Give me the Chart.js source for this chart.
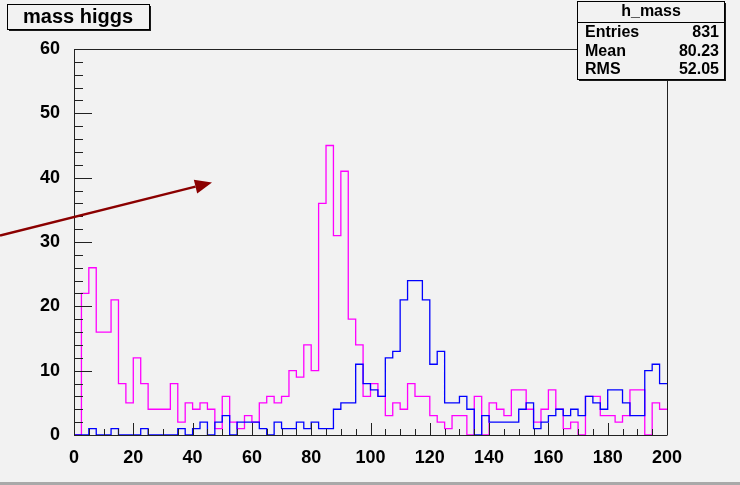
<!DOCTYPE html>
<html>
<head>
<meta charset="utf-8">
<title>mass higgs</title>
<script src="https://cdn.jsdelivr.net/npm/chart.js@4"></script>
<style>
  html, body { margin: 0; padding: 0; background: #f2f2f2; }
  #wrap { width: 740px; height: 485px; }
</style>
</head>
<body>
<div id="wrap"><canvas id="massChart" width="740" height="485"></canvas></div>
<script>
// Histogram binning: 80 bins of 2.5 between 0 and 200
const xMin = 0;
const xMax = 200;
const binWidth = 2.5;

// Background counts per bin (blue)
const bkgCounts = [
    0, 0, 1, 0, 0, 1, 0, 0, 0, 1,
    0, 0, 0, 0, 1, 0, 1, 2, 0, 2,
    3, 0, 2, 2, 2, 1, 0, 2, 1, 1,
    2, 1, 2, 1, 1, 4, 5, 5, 11, 8,
    7, 6, 12, 13, 21, 24, 24, 21, 11, 13,
    5, 5, 6, 4, 0, 3, 2, 2, 2, 2,
    4, 5, 1, 2, 3, 4, 3, 4, 3, 6,
    5, 4, 7, 7, 5, 3, 3, 10, 11, 8
];

// Higgs mass counts per bin (magenta)
const higgsCounts = [
    0, 22, 26, 16, 16, 21, 8, 5, 12, 8,
    4, 4, 4, 8, 2, 5, 4, 5, 4, 1,
    6, 2, 1, 3, 2, 5, 6, 5, 6, 10,
    9, 14, 10, 36, 45, 31, 41, 18, 14, 6,
    8, 6, 3, 5, 4, 8, 6, 6, 3, 2,
    1, 3, 3, 0, 6, 0, 5, 4, 3, 7,
    7, 4, 2, 4, 7, 4, 1, 2, 0, 6,
    6, 3, 3, 2, 3, 7, 7, 0, 5, 4
];

// Axis ranges and labels
const yMax = 60;
const xTickStep = 20;
const yTickStep = 10;

// Stats box
const statsTitle = "h_mass";
const statsNames = ["Entries", "Mean", "RMS"];
const statsValues = ["831", "80.23", "52.05"];
const histTitle = "mass higgs";

// turn bin contents into step points (left edge of each bin + closing edge)
function toSteps(counts) {
    const pts = counts.map((c, i) => ({ x: xMin + i * binWidth, y: c }));
    pts.push({ x: xMin + counts.length * binWidth, y: counts[counts.length - 1] });
    return pts;
}

const boldFont = "'Liberation Sans', Arial, Helvetica, sans-serif";

// ROOT style frame, ticks, arrow and text boxes
const rootDecor = {
    id: 'rootDecor',
    beforeDraw(chart) {
        const ctx = chart.ctx;
        ctx.save();
        ctx.fillStyle = '#f2f2f2';
        ctx.fillRect(0, 0, chart.width, chart.height);
        ctx.fillStyle = '#a9a9a9';
        ctx.fillRect(0, 482, chart.width, 3);
        ctx.restore();
    },
    afterDraw(chart) {
        const ctx = chart.ctx;
        const area = chart.chartArea;
        const xs = chart.scales.x;
        const ys = chart.scales.y;
        ctx.save();

        // axis lines and frame
        ctx.strokeStyle = '#222';
        ctx.lineWidth = 1;
        ctx.beginPath();
        ctx.moveTo(area.left + 0.5, area.top);
        ctx.lineTo(area.left + 0.5, area.bottom + 0.5);
        ctx.lineTo(area.right + 0.5, area.bottom + 0.5);
        ctx.moveTo(area.left, area.top + 0.5);
        ctx.lineTo(577, area.top + 0.5);
        ctx.moveTo(area.right + 0.5, 80);
        ctx.lineTo(area.right + 0.5, area.bottom);
        ctx.stroke();

        // y ticks pointing into the frame
        ctx.beginPath();
        for (let v = 0; v <= yMax; v += 2) {
            const y = Math.round(ys.getPixelForValue(v)) + 0.5;
            const len = v % yTickStep === 0 ? 18 : 9;
            ctx.moveTo(area.left, y);
            ctx.lineTo(area.left + len, y);
        }
        // x ticks
        for (let v = xMin; v <= xMax; v += 5) {
            const x = Math.round(xs.getPixelForValue(v)) + 0.5;
            const len = v % xTickStep === 0 ? 12 : 6;
            ctx.moveTo(x, area.bottom);
            ctx.lineTo(x, area.bottom - len);
        }
        ctx.stroke();

        // arrow
        const x0 = 0, y0 = 235.5, x1 = 212, y1 = 182.5;
        const ang = Math.atan2(y1 - y0, x1 - x0);
        const headLen = 17, headHalf = 7;
        const bx = x1 - headLen * Math.cos(ang), by = y1 - headLen * Math.sin(ang);
        ctx.strokeStyle = '#8b0000';
        ctx.fillStyle = '#8b0000';
        ctx.lineWidth = 2.5;
        ctx.beginPath();
        ctx.moveTo(x0, y0);
        ctx.lineTo(bx, by);
        ctx.stroke();
        ctx.beginPath();
        ctx.moveTo(x1, y1);
        ctx.lineTo(bx + headHalf * Math.sin(ang), by - headHalf * Math.cos(ang));
        ctx.lineTo(bx - headHalf * Math.sin(ang), by + headHalf * Math.cos(ang));
        ctx.closePath();
        ctx.fill();

        // title box
        drawBox(ctx, 7, 4, 142, 25);
        ctx.fillStyle = '#000';
        ctx.font = 'bold 20px ' + boldFont;
        ctx.textAlign = 'center';
        ctx.textBaseline = 'middle';
        ctx.fillText(histTitle, 78, 17);

        // stats box
        drawBox(ctx, 577, 1, 147, 78);
        ctx.strokeStyle = '#000';
        ctx.lineWidth = 1;
        ctx.beginPath();
        ctx.moveTo(577, 22.5);
        ctx.lineTo(724, 22.5);
        ctx.stroke();
        ctx.fillStyle = '#000';
        ctx.font = 'bold 16px ' + boldFont;
        ctx.textAlign = 'center';
        ctx.fillText(statsTitle, 651, 12);
        statsNames.forEach((name, i) => {
            const y = 33 + i * 18.5;
            ctx.textAlign = 'left';
            ctx.fillText(name, 585, y);
            ctx.textAlign = 'right';
            ctx.fillText(statsValues[i], 719, y);
        });

        ctx.restore();
    }
};

function drawBox(ctx, x, y, w, h) {
    ctx.fillStyle = '#1a1a1a';
    ctx.fillRect(x + 2, y + 2, w, h);
    ctx.fillStyle = '#f2f2f2';
    ctx.fillRect(x, y, w, h);
    ctx.strokeStyle = '#000';
    ctx.lineWidth = 1;
    ctx.strokeRect(x + 0.5, y + 0.5, w, h);
}

const ctx = document.getElementById('massChart').getContext('2d');

// 'before' in Chart.js draws the horizontal run first, so each level spans its own bin
new Chart(ctx, {
    type: 'line',
    data: {
        datasets: [
            {
                label: 'background',
                data: toSteps(bkgCounts),
                borderColor: '#0000ff',
                borderWidth: 1.3,
                stepped: 'before',
                pointRadius: 0,
                fill: false
            },
            {
                label: 'higgs',
                data: toSteps(higgsCounts),
                borderColor: '#ff00ff',
                borderWidth: 1.3,
                stepped: 'before',
                pointRadius: 0,
                fill: false
            }
        ]
    },
    options: {
        responsive: false,
        animation: false,
        devicePixelRatio: 1,
        layout: { padding: { top: 49, right: 73, left: 0, bottom: 0 } },
        plugins: {
            legend: { display: false },
            tooltip: { enabled: false }
        },
        scales: {
            x: {
                type: 'linear',
                min: xMin,
                max: xMax,
                grid: { display: false },
                border: { display: false },
                afterFit: (scale) => { scale.height = 50; },
                ticks: {
                    stepSize: xTickStep,
                    padding: 4,
                    maxRotation: 0,
                    color: '#000',
                    font: { family: boldFont, weight: 'bold', size: 18 }
                }
            },
            y: {
                type: 'linear',
                min: 0,
                max: yMax,
                grid: { display: false },
                border: { display: false },
                afterFit: (scale) => { scale.width = 74; },
                ticks: {
                    stepSize: yTickStep,
                    padding: 6,
                    color: '#000',
                    font: { family: boldFont, weight: 'bold', size: 18 }
                }
            }
        }
    },
    plugins: [rootDecor]
});
</script>
</body>
</html>
